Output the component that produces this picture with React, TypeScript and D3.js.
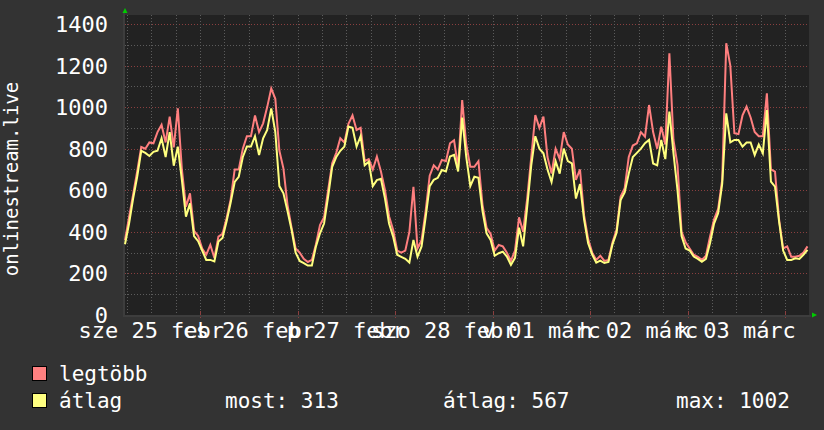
import React from "react";
import * as d3 from "d3";

const maxValues = [
  360, 470, 580, 690, 808, 800, 830, 826, 880, 915, 830, 954, 806, 994, 700, 521, 585, 405, 380, 320,
  290, 337, 275, 377, 390, 465, 555, 700, 700, 800, 860, 860, 960, 880, 922, 1000, 1090, 1040, 790, 705,
  530, 420, 320, 300, 270, 255, 265, 340, 433, 470, 601, 730, 780, 850, 830, 920, 960, 890, 900, 740,
  750, 700, 762, 690, 600, 475, 410, 310, 300, 310, 400, 617, 320, 360, 500, 670, 720, 700, 746, 740,
  826, 840, 710, 1034, 820, 713, 713, 740, 530, 420, 390, 310, 337, 330, 300, 260, 310, 470, 400, 560,
  760, 962, 900, 954, 760, 680, 800, 750, 880, 820, 800, 650, 700, 480, 365, 300, 265, 285, 260, 265,
  350, 410, 570, 610, 760, 815, 826, 880, 858, 1010, 880, 800, 906, 820, 1259, 842, 722, 400, 350, 320,
  290, 280, 265, 285, 377, 460, 510, 650, 1307, 1200, 874, 870, 960, 1002, 950, 880, 860, 860, 1066, 700,
  690, 460, 320, 330, 280, 280, 285, 300, 330,
];

const avgValues = [
  340, 440, 560, 665, 790, 780, 765, 785, 790, 850, 760, 880, 718, 810, 650, 473, 537, 380, 355, 310,
  265, 265, 258, 353, 370, 450, 540, 640, 665, 760, 810, 810, 860, 770, 850, 890, 994, 880, 620, 585,
  500, 410, 300, 260, 250, 238, 238, 330, 393, 440, 569, 713, 760, 790, 810, 906, 900, 810, 860, 720,
  737, 620, 649, 655, 560, 440, 377, 290, 280, 270, 252, 361, 280, 330, 470, 620, 650, 660, 697, 690,
  762, 770, 690, 950, 760, 620, 665, 660, 500, 393, 361, 285, 297, 305, 281, 241, 275, 420, 330, 520,
  720, 860, 800, 778, 700, 640, 740, 680, 800, 740, 729, 560, 630, 460, 345, 290, 252, 262, 250, 255,
  340, 395, 553, 590, 680, 760, 780, 800, 826, 842, 729, 720, 842, 750, 978, 780, 601, 380, 320, 310,
  281, 270, 256, 270, 345, 440, 489, 630, 970, 830, 842, 842, 810, 830, 830, 770, 820, 778, 986, 641,
  617, 450, 310, 265, 265, 273, 270, 290, 313,
];

const yTicks = [0, 200, 400, 600, 800, 1000, 1200, 1400];
const dayLabels = ["sze 25 febr", "cs 26 febr", "p 27 febr", "szo 28 febr", "v 01 márc", "h 02 márc", "k 03 márc"];
const seriesNames = ["legtöbb", "átlag"];
const statLabels = ["most: 313", "átlag: 567", "max: 1002"];
const yTitle = "onlinestream.live";

const W = 824;
const H = 430;
const PL = 125;
const PR = 809;
const PT = 15;
const PB = 315;
const FONT = "'DejaVu Sans Mono', monospace";

export default function App() {
  const t0 = new Date(2015, 1, 25, 5, 32);
  const hourMs = 3600 * 1000;
  const tEnd = new Date(t0.getTime() + ((PR - PL) / 4.0625) * hourMs);
  const x = d3.scaleTime().domain([t0, tEnd]).range([PL, PR]);
  const y = d3.scaleLinear().domain([0, 1443]).range([PB, PT]);
  const times = maxValues.map((_, i) => new Date(t0.getTime() + i * hourMs));

  const line = d3
    .line<number>()
    .x((_, i) => x(times[i]))
    .y((d) => y(d));

  const sixHours = d3.timeHour.every(6)!.range(t0, tEnd);
  const days = d3.timeDay.range(t0, tEnd);
  const noons = d3.timeDay.range(d3.timeDay.floor(t0), tEnd).map((d) => d3.timeHour.offset(d, 12));
  const minorY = d3.range(100, 1443, 100);

  return (
    <svg width={W} height={H} style={{ display: "block", position: "absolute", left: 0, top: 0 }}>
      <rect x={0} y={0} width={W} height={H} fill="#333333" />
      <rect x={PL} y={PT} width={PR - PL} height={PB - PT} fill="#222222" />
      {/* horizontal grid */}
      {minorY.map((v) => (
        <line
          key={"h" + v}
          x1={PL}
          x2={PR}
          y1={Math.round(y(v)) + 0.5}
          y2={Math.round(y(v)) + 0.5}
          stroke={v % 200 === 0 ? "#8a3f3f" : "#5c5c5c"}
          strokeDasharray="1,2"
          strokeWidth={1}
        />
      ))}
      {/* vertical grid */}
      {sixHours.map((t) => (
        <line
          key={"v" + t.getTime()}
          x1={Math.round(x(t)) + 0.5}
          x2={Math.round(x(t)) + 0.5}
          y1={PT}
          y2={PB}
          stroke="#5c5c5c"
          strokeDasharray="1,2"
          strokeWidth={1}
        />
      ))}
      {days.map((t) => (
        <line
          key={"d" + t.getTime()}
          x1={Math.round(x(t)) + 0.5}
          x2={Math.round(x(t)) + 0.5}
          y1={PB - 4}
          y2={PB + 3}
          stroke="#8a3f3f"
          strokeWidth={1}
        />
      ))}
      {/* axes */}
      <line x1={PL - 1} x2={PL - 1} y1={PT - 2} y2={PB + 1} stroke="#3d3d3d" strokeWidth={2} />
      <line x1={PL - 2} x2={PR + 2} y1={PB + 1} y2={PB + 1} stroke="#3d3d3d" strokeWidth={2} />
      <path d={`M${PL - 2.5},${PT - 2} L${PL},${PT - 7} L${PL + 2.5},${PT - 2} Z`} fill="#00cc00" />
      <path d={`M${PR + 3},${PB - 2.5} L${PR + 8},${PB} L${PR + 3},${PB + 2.5} Z`} fill="#00cc00" />
      {/* series */}
      <path d={line(maxValues) || ""} fill="none" stroke="#ff7f7f" strokeWidth={2} strokeLinejoin="miter" />
      <path d={line(avgValues) || ""} fill="none" stroke="#ffff7f" strokeWidth={2} strokeLinejoin="miter" />
      {/* y labels */}
      {yTicks.map((v) => (
        <text
          key={"yl" + v}
          x={108}
          y={y(v) + 8}
          textAnchor="end"
          fill="#ffffff"
          fontFamily={FONT}
          fontSize={22}
        >
          {v}
        </text>
      ))}
      {/* x labels */}
      {noons.map((t, i) => (
        <text
          key={"xl" + i}
          x={x(t)}
          y={338}
          textAnchor="middle"
          fill="#ffffff"
          fontFamily={FONT}
          fontSize={22}
        >
          {dayLabels[i]}
        </text>
      ))}
      <text
        transform="translate(18,179) rotate(-90)"
        textAnchor="middle"
        fill="#ffffff"
        fontFamily={FONT}
        fontSize={19}
      >
        {yTitle}
      </text>
      {/* legend */}
      <rect x={32.5} y={366.5} width={14} height={14} fill="#ff8080" stroke="#000" strokeWidth={1} />
      <text x={59} y={381} fill="#fff" fontFamily={FONT} fontSize={21}>
        {seriesNames[0]}
      </text>
      <rect x={32.5} y={393.5} width={14} height={14} fill="#ffff80" stroke="#000" strokeWidth={1} />
      <text x={59} y={408} fill="#fff" fontFamily={FONT} fontSize={21}>
        {seriesNames[1]}
      </text>
      {[225, 443, 676].map((px, i) => (
        <text key={"st" + i} x={px} y={408} fill="#fff" fontFamily={FONT} fontSize={21}>
          {statLabels[i]}
        </text>
      ))}
    </svg>
  );
}
